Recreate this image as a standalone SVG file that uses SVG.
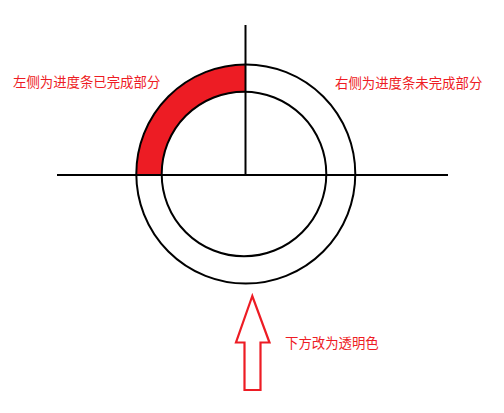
<svg xmlns="http://www.w3.org/2000/svg" width="504" height="413" viewBox="0 0 504 413">
<style>
.ln{stroke:#000;stroke-width:2;fill:none}
.lbl{font-family:"Liberation Sans","Noto Sans CJK SC",sans-serif;font-size:13.4px;fill:#ee1c24}
</style>
<rect width="504" height="413" fill="#fff"/>
<g id="progress">
<path d="M136.3,174.5 A109.5,109.5 0 0 1 245.8,65 L245.8,92.2 A82.3,82.3 0 0 0 161.7,174.5 Z" fill="#ed1c24"/>
<circle class="ln" cx="245.8" cy="174" r="109.5"/>
<circle class="ln" cx="244" cy="174" r="82.3"/>
</g>
<g id="connectors">
<line class="ln" x1="57" y1="175" x2="448" y2="175"/>
<line class="ln" x1="245.5" y1="25" x2="245.5" y2="175"/>
</g>
<g id="arrow">
<polygon points="252.3,296 236,342.5 244.5,342.5 244.5,390 260.5,390 260.5,342.5 269.5,342.5" fill="none" stroke="#ed1c24" stroke-width="2.2"/>
</g>
<g id="labels">
<text class="lbl" x="13" y="87">左侧为进度条已完成部分</text>
<text class="lbl" x="335" y="88">右侧为进度条未完成部分</text>
<text class="lbl" x="285" y="348">下方改为透明色</text>
</g>
</svg>
